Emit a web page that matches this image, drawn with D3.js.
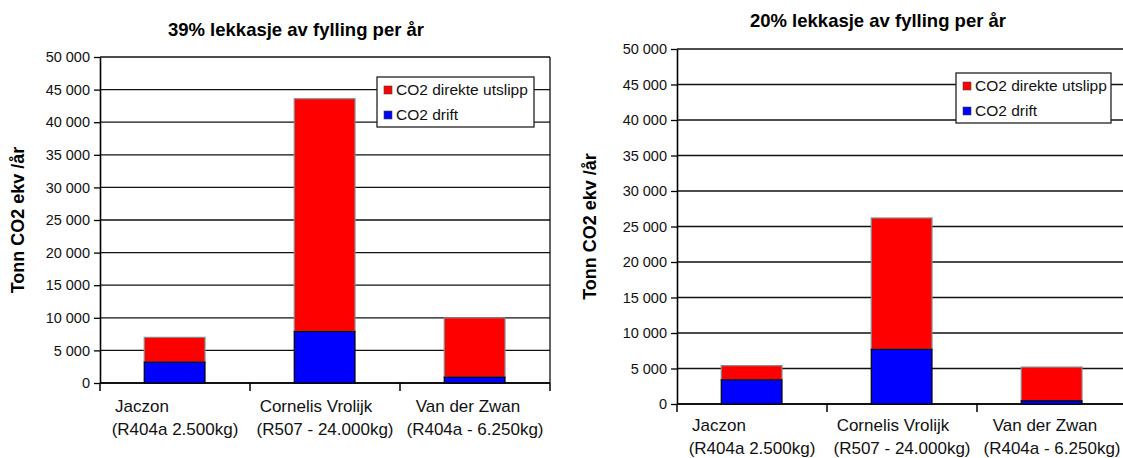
<!DOCTYPE html>
<html>
<head>
<meta charset="utf-8">
<script src="https://cdn.jsdelivr.net/npm/d3@7"></script>
<style>
  body { margin: 0; background: #fff; }
  svg { display: block; font-family: "Liberation Sans", Arial, sans-serif; }
  text { white-space: pre; }
</style>
</head>
<body>
<script>
// Category names (two-line labels) and the stacked series
var categories = ["Jaczon", "Cornelis Vrolijk", "Van der Zwan"];
var subLabels = ["(R404a 2.500kg)", "(R507 - 24.000kg)", "(R404a - 6.250kg)"];
var seriesNames = ["CO2 direkte utslipp", "CO2 drift"];

// 39% leakage chart (tonn CO2 ekv / år)
var drift39 = [3200, 7900, 900];
var direkte39 = [3800, 35700, 9100];

// 20% leakage chart
var drift20 = [3400, 7700, 450];
var direkte20 = [2000, 18500, 4750];

var yTicks = [0, 5000, 10000, 15000, 20000, 25000, 30000, 35000, 40000, 45000, 50000];
var chartTitles = ["39% lekkasje av fylling per år", "20% lekkasje av fylling per år"];
var yTitle = "Tonn CO2 ekv /år";

var width = 1123,
    height = 458;

var svg = d3.select("body")
  .append("svg")
  .attr("width", width)
  .attr("height", height);

svg.append("rect").attr("width", width).attr("height", height).attr("fill", "#fff");

// thousands with a space, like "45 000"
var fmt = function(d){ return d3.format(",")(d).replace(/,/g, " "); };

// first line of each label sits a bit left of the category centre
var nameShift = [-33, -9, -7];

function drawChart(cfg){
  var g = svg.append("g");

  var x = d3.scaleBand()
    .domain(categories)
    .range([cfg.left, cfg.right]);
  var bw = x.bandwidth();

  var y = d3.scaleLinear()
    .domain([0, 50000])
    .range([cfg.bottom, cfg.top]);

  // title
  g.append("text")
    .attr("x", cfg.titleX)
    .attr("y", cfg.titleY)
    .attr("text-anchor", "middle")
    .attr("font-size", 18.5)
    .attr("font-weight", "bold")
    .text(cfg.title);

  // horizontal gridlines
  g.selectAll(".grid")
    .data(yTicks)
    .join("line")
    .attr("class", "grid")
    .attr("x1", cfg.left)
    .attr("x2", cfg.right)
    .attr("y1", function(d){ return y(d); })
    .attr("y2", function(d){ return y(d); })
    .attr("stroke", "#111")
    .attr("stroke-width", 1.3);

  // right border of plot
  g.append("line")
    .attr("x1", cfg.right).attr("x2", cfg.right)
    .attr("y1", y(50000)).attr("y2", y(0))
    .attr("stroke", "#111").attr("stroke-width", 1.3);

  // y axis
  var yAxis = d3.axisLeft(y)
    .tickValues(yTicks)
    .tickSize(6)
    .tickSizeOuter(0)
    .tickPadding(4)
    .tickFormat(fmt);
  var ya = g.append("g")
    .attr("transform", "translate(" + cfg.left + ",0)")
    .call(yAxis);
  ya.select(".domain").attr("stroke", "#000").attr("stroke-width", 1.6);
  ya.selectAll(".tick line").attr("stroke", "#000").attr("stroke-width", 1.3);
  ya.selectAll(".tick text")
    .attr("font-size", 14.5)
    .attr("font-family", "Liberation Sans, Arial, sans-serif")
    .attr("fill", "#111");

  // x axis ticks at category boundaries
  var bounds = categories.map(function(c){ return x(c); }).concat([cfg.right]);
  g.selectAll(".xtick")
    .data(bounds)
    .join("line")
    .attr("x1", function(d){ return d; })
    .attr("x2", function(d){ return d; })
    .attr("y1", y(0))
    .attr("y2", y(0) + 8)
    .attr("stroke", "#000")
    .attr("stroke-width", 1.5);
  g.append("line")
    .attr("x1", cfg.left).attr("x2", cfg.right)
    .attr("y1", y(0)).attr("y2", y(0))
    .attr("stroke", "#000").attr("stroke-width", 1.6);

  // category labels, two lines
  g.selectAll(".xname")
    .data(categories)
    .join("text")
    .attr("x", function(d, i){ return x(d) + bw / 2 + nameShift[i]; })
    .attr("y", y(0) + cfg.label1)
    .attr("text-anchor", "middle")
    .attr("font-size", 17)
    .attr("fill", "#111")
    .text(function(d){ return d; });
  g.selectAll(".xsub")
    .data(categories)
    .join("text")
    .attr("x", function(d){ return x(d) + bw / 2; })
    .attr("y", y(0) + cfg.label2)
    .attr("text-anchor", "middle")
    .attr("font-size", 17)
    .attr("fill", "#111")
    .text(function(d, i){ return subLabels[i]; });

  // stacked bars
  var rows = categories.map(function(c, i){
    return { cat: c, drift: cfg.drift[i], direkte: cfg.direkte[i] };
  });
  var layers = d3.stack().keys(["drift", "direkte"])(rows);
  var colors = { drift: "#0000ff", direkte: "#ff0000" };
  var strokes = { drift: "#000", direkte: "#8a8a8a" };

  // red (top) first, then blue so the boundary line stays dark
  [layers[1], layers[0]].forEach(function(layer){
    g.selectAll(".bar-" + layer.key)
      .data(layer)
      .join("rect")
      .attr("x", function(d){ return x(d.data.cat) + bw * 0.295; })
      .attr("width", bw * 0.405)
      .attr("y", function(d){ return y(d[1]); })
      .attr("height", function(d){ return y(d[0]) - y(d[1]); })
      .attr("fill", colors[layer.key])
      .attr("stroke", strokes[layer.key])
      .attr("stroke-width", 1.2);
  });

  // y axis title
  g.append("text")
    .attr("transform", "translate(" + cfg.yTitleX + "," + ((y(0) + y(50000)) / 2) + ") rotate(-90)")
    .attr("text-anchor", "middle")
    .attr("font-size", 18)
    .attr("font-weight", "bold")
    .text(yTitle);

  // legend
  var lg = g.append("g").attr("transform", "translate(" + cfg.legX + "," + cfg.legY + ")");
  lg.append("rect")
    .attr("width", cfg.legW).attr("height", 50)
    .attr("fill", "#fff")
    .attr("stroke", "#222").attr("stroke-width", 1.3);
  var legColors = ["#ff0000", "#0000ff"];
  seriesNames.forEach(function(name, i){
    lg.append("rect")
      .attr("x", 7).attr("y", 9 + i * 25)
      .attr("width", 8).attr("height", 8)
      .attr("fill", legColors[i])
      .attr("stroke", "#444").attr("stroke-width", 0.6);
    lg.append("text")
      .attr("x", 19).attr("y", 13 + i * 25)
      .attr("dy", "0.35em")
      .attr("font-size", 15.5)
      .attr("fill", "#111")
      .text(name);
  });
}

drawChart({
  title: chartTitles[0], titleX: 296, titleY: 36,
  left: 100, right: 550, top: 57, bottom: 383,
  yTitleX: 24, label1: 29, label2: 52,
  legX: 377, legY: 77, legW: 157,
  drift: drift39, direkte: direkte39
});

drawChart({
  title: chartTitles[1], titleX: 878, titleY: 27,
  left: 677, right: 1127, top: 49, bottom: 404,
  yTitleX: 596, label1: 27, label2: 50,
  legX: 956, legY: 73, legW: 155,
  drift: drift20, direkte: direkte20
});
</script>
</body>
</html>
